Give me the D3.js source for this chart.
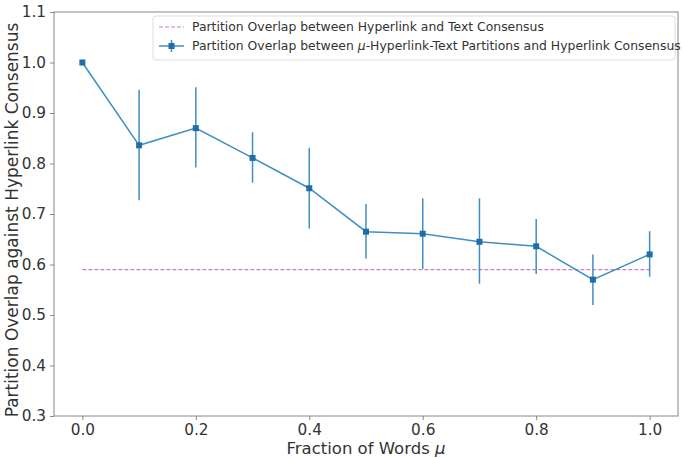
<!DOCTYPE html>
<html><head><meta charset="utf-8">
<script src="https://cdn.jsdelivr.net/npm/d3@7"></script>
<style>body{margin:0;background:#fff}svg{display:block}text{font-family:"DejaVu Sans",sans-serif}</style>
</head><body><svg id="c" width="685" height="458"></svg>
<script>
const mu = [0.0,0.1,0.2,0.3,0.4,0.5,0.6,0.7,0.8,0.9,1.0];
const overlap = [1.0,0.836,0.870,0.811,0.751,0.665,0.661,0.645,0.636,0.570,0.620];
const errLow = [1.0,0.727,0.792,0.762,0.671,0.612,0.591,0.562,0.581,0.520,0.576];
const errHigh = [1.0,0.946,0.951,0.862,0.831,0.720,0.731,0.731,0.690,0.620,0.666];
const baseline = 0.59;
const xTicks = [0.0,0.2,0.4,0.6,0.8,1.0];
const yTicks = [0.3,0.4,0.5,0.6,0.7,0.8,0.9,1.0,1.1];
const legendLabels = ["Partition Overlap between Hyperlink and Text Consensus","Partition Overlap between μ-Hyperlink-Text Partitions and Hyperlink Consensus"];

const svg = d3.select("#c");
const L=54,T=12,R=678,B=416;
const x = d3.scaleLinear().domain([-0.05,1.05]).range([L,R]);
const y = d3.scaleLinear().domain([0.3,1.1]).range([B,T]);
const axisCol="#888", textCol="#333", lineCol="#3f8fc2", markCol="#1f6eaa", dashCol="#c77fc9";

const gx = svg.append("g").attr("transform",`translate(0,${B})`)
  .call(d3.axisBottom(x).tickValues(xTicks).tickFormat(d3.format(".1f")).tickSize(4).tickPadding(4));
const gy = svg.append("g").attr("transform",`translate(${L},0)`)
  .call(d3.axisLeft(y).tickValues(yTicks).tickFormat(d3.format(".1f")).tickSize(4).tickPadding(4));
[gx,gy].forEach(g=>{
  g.select(".domain").remove();
  g.selectAll("line").attr("stroke",axisCol);
  g.selectAll("text").attr("fill",textCol).style("font-size","15.3px").style("font-family","DejaVu Sans");
});
svg.append("rect").attr("x",L).attr("y",T).attr("width",R-L).attr("height",B-T)
  .attr("fill","none").attr("stroke",axisCol).attr("stroke-width",1);

// baseline dashed
svg.append("line").attr("x1",x(mu[0])).attr("x2",x(mu[mu.length-1]))
  .attr("y1",y(baseline)).attr("y2",y(baseline))
  .attr("stroke",dashCol).attr("stroke-width",1.2).attr("stroke-dasharray","4,2");

// error bars
svg.append("g").selectAll("line").data(mu).join("line")
  .attr("x1",d=>x(d)).attr("x2",d=>x(d))
  .attr("y1",(d,i)=>y(errLow[i])).attr("y2",(d,i)=>y(errHigh[i]))
  .attr("stroke",lineCol).attr("stroke-width",1.5);

// line
const pts = mu.map((d,i)=>[d,overlap[i]]);
svg.append("path").datum(pts)
  .attr("d",d3.line().x(d=>x(d[0])).y(d=>y(d[1])))
  .attr("fill","none").attr("stroke",lineCol).attr("stroke-width",1.5);
svg.append("g").selectAll("rect").data(pts).join("rect")
  .attr("x",d=>x(d[0])-3).attr("y",d=>y(d[1])-3).attr("width",6).attr("height",6)
  .attr("fill",markCol);

// axis labels
svg.append("text").attr("x",(L+R)/2).attr("y",454).attr("text-anchor","middle")
  .attr("fill",textCol).style("font-size","16.5px")
  .html('Fraction of Words <tspan font-style="italic">μ</tspan>');
svg.append("text").attr("transform",`translate(18,220) rotate(-90)`)
  .attr("text-anchor","middle").attr("fill",textCol).style("font-size","17px")
  .text("Partition Overlap against Hyperlink Consensus");

// legend
const lg = svg.append("g");
lg.append("rect").attr("x",153).attr("y",16).attr("width",522).attr("height",44).attr("rx",3)
  .attr("fill","#fff").attr("stroke","#ddd");
lg.append("line").attr("x1",159).attr("x2",184).attr("y1",27).attr("y2",27)
  .attr("stroke",dashCol).attr("stroke-width",1.2).attr("stroke-dasharray","4,2");
lg.append("line").attr("x1",159).attr("x2",184).attr("y1",46).attr("y2",46)
  .attr("stroke",lineCol).attr("stroke-width",1.5);
lg.append("line").attr("x1",171.5).attr("x2",171.5).attr("y1",40).attr("y2",52)
  .attr("stroke",lineCol).attr("stroke-width",1.5);
lg.append("rect").attr("x",168.5).attr("y",43).attr("width",6).attr("height",6).attr("fill",markCol);
lg.append("text").attr("x",192).attr("y",31).attr("fill",textCol).style("font-size","12.4px").text(legendLabels[0]);
lg.append("text").attr("x",192).attr("y",50).attr("fill",textCol).style("font-size","12.4px")
  .html('Partition Overlap between <tspan font-style="italic">μ</tspan>-Hyperlink-Text Partitions and Hyperlink Consensus');
</script></body></html>
